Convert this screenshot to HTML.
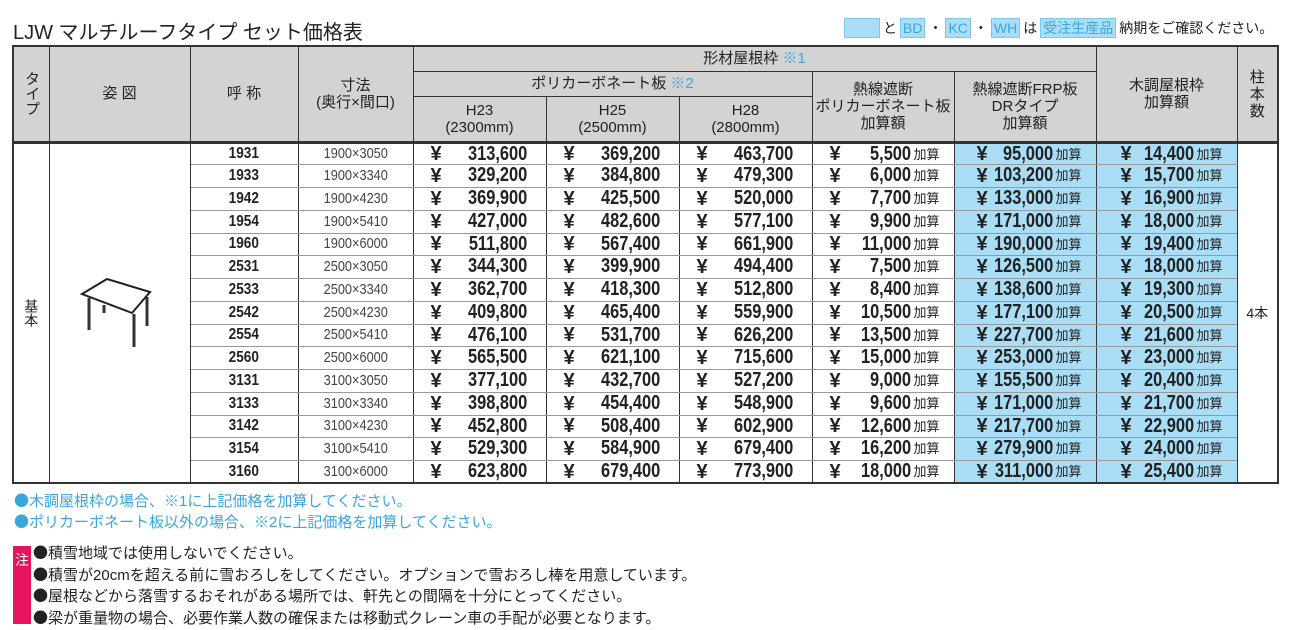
<!DOCTYPE html>
<html><head><meta charset="utf-8"><style>
body{margin:0;width:1296px;height:630px;background:#fff;font-family:"Liberation Sans","Noto Sans CJK JP",sans-serif;color:#222;position:relative;overflow:hidden}
.t{position:absolute;left:13px;top:16px;font-size:20px;color:#222}
.leg{position:absolute;top:18px;left:844px;font-size:14px;display:flex;align-items:center;gap:3px;white-space:nowrap}
.leg span.b{background:#a9def6;border:1px solid #7cc7ea;color:#3aa6dc;padding:0 2px;height:18px;line-height:18px;display:inline-block}
table{position:absolute;left:12px;top:45px;border-collapse:collapse;table-layout:fixed;width:1265px;border:2px solid #333}
td,th{padding:0;border:1px solid #333;font-weight:normal;text-align:center;font-size:14px;overflow:hidden;white-space:nowrap}
th{background:#d3d3d3;line-height:17px;font-size:15px}
.hb{border-bottom:3px solid #333}
tbody tr{height:22.75px}
td{height:20.75px;line-height:20px;border-top:1px solid #999;border-bottom:1px solid #999}
.n{font-weight:bold;font-size:16px}
.n span,.s span{display:inline-block;transform:scaleX(.85)}
.s{font-size:15px;color:#444}
.p{font-weight:bold;font-size:20px;text-align:left;padding-left:17px;position:relative}
.p b{position:absolute;right:18px;top:0;transform:scaleX(.82);transform-origin:right center}
.a b{right:42px}
.a i{position:absolute;right:14px;top:1px;font-style:normal;font-weight:normal;font-size:13px}
.bl{background:#a9def6}
.bl.p{padding-left:24px}
.fr.p{padding-left:22px}
.c{color:#3aa6dc}
.d{font-family:"Noto Sans CJK JP",sans-serif}
.notes{position:absolute;left:14px;top:491px;font-size:15px;color:#3aa6dc;line-height:20px}
.m{position:absolute;left:13px;top:546px;width:18px;height:78px;background:#e8135c;color:#fff;font-size:14px;text-align:center;padding-top:4px;box-sizing:border-box}
.w{position:absolute;left:33px;top:543px;font-size:15px;line-height:20.5px;color:#222}
</style></head><body>
<div class="t">LJW マルチルーフタイプ セット価格表</div>
<div class="leg"><span class="b" style="width:30px"></span> と <span class="b">BD</span>・<span class="b">KC</span>・<span class="b">WH</span> は <span class="b">受注生産品</span> 納期をご確認ください。</div>
<table>
<colgroup><col style="width:36px"><col style="width:141px"><col style="width:108px"><col style="width:115px"><col style="width:133px"><col style="width:133px"><col style="width:133px"><col style="width:142px"><col style="width:142px"><col style="width:141px"><col style="width:41px"></colgroup>
<thead>
<tr style="height:25px"><th rowspan="3" class="hb" style="writing-mode:vertical-rl;line-height:36px">タイプ</th><th rowspan="3" class="hb">姿 図</th><th rowspan="3" class="hb">呼 称</th><th rowspan="3" class="hb">寸法<br>(奥行×間口)</th><th colspan="5">形材屋根枠 <span class="c">※1</span></th><th rowspan="3" class="hb" style="vertical-align:top;padding-top:30px">木調屋根枠<br>加算額</th><th rowspan="3" class="hb" style="vertical-align:top;padding-top:22px;line-height:17px">柱<br>本<br>数</th></tr>
<tr style="height:25px"><th colspan="3">ポリカーボネート板 <span class="c">※2</span></th><th rowspan="2" class="hb">熱線遮断<br>ポリカーボネート板<br>加算額</th><th rowspan="2" class="hb">熱線遮断FRP板<br>DRタイプ<br>加算額</th></tr>
<tr style="height:46px"><th class="hb">H23<br>(2300mm)</th><th class="hb">H25<br>(2500mm)</th><th class="hb">H28<br>(2800mm)</th></tr>
</thead>
<tbody id="b"></tbody>
</table>
<svg width="90" height="80" style="position:absolute;left:75px;top:274px" viewBox="75 274 90 80"><polygon points="82,294 107,279 150,292 132,313" fill="#fff" stroke="#222" stroke-width="2"/><g stroke="#333" stroke-width="3" fill="none"><line x1="89" y1="298" x2="89" y2="330"/><line x1="104" y1="305" x2="104" y2="313"/><line x1="147" y1="297" x2="147" y2="326"/><line x1="134" y1="314" x2="134" y2="347"/></g></svg>
<div class="notes"><span class="d">●</span>木調屋根枠の場合、※1に上記価格を加算してください。<br><span class="d">●</span>ポリカーボネート板以外の場合、※2に上記価格を加算してください。</div>
<div class="m">注</div>
<div class="w"><span class="d">●</span>積雪地域では使用しないでください。<br><span class="d">●</span>積雪が20cmを超える前に雪おろしをしてください。オプションで雪おろし棒を用意しています。<br><span class="d">●</span>屋根などから落雪するおそれがある場所では、軒先との間隔を十分にとってください。<br><span class="d">●</span>梁が重量物の場合、必要作業人数の確保または移動式クレーン車の手配が必要となります。</div>
<script>
var d=[["1931","1900×3050","313,600","369,200","463,700","5,500","95,000","14,400"],
["1933","1900×3340","329,200","384,800","479,300","6,000","103,200","15,700"],
["1942","1900×4230","369,900","425,500","520,000","7,700","133,000","16,900"],
["1954","1900×5410","427,000","482,600","577,100","9,900","171,000","18,000"],
["1960","1900×6000","511,800","567,400","661,900","11,000","190,000","19,400"],
["2531","2500×3050","344,300","399,900","494,400","7,500","126,500","18,000"],
["2533","2500×3340","362,700","418,300","512,800","8,400","138,600","19,300"],
["2542","2500×4230","409,800","465,400","559,900","10,500","177,100","20,500"],
["2554","2500×5410","476,100","531,700","626,200","13,500","227,700","21,600"],
["2560","2500×6000","565,500","621,100","715,600","15,000","253,000","23,000"],
["3131","3100×3050","377,100","432,700","527,200","9,000","155,500","20,400"],
["3133","3100×3340","398,800","454,400","548,900","9,600","171,000","21,700"],
["3142","3100×4230","452,800","508,400","602,900","12,600","217,700","22,900"],
["3154","3100×5410","529,300","584,900","679,400","16,200","279,900","24,000"],
["3160","3100×6000","623,800","679,400","773,900","18,000","311,000","25,400"]];
var h="";
d.forEach(function(r,i){
h+="<tr>";
if(i==0){h+='<td rowspan="15" style="border-bottom:2px solid #333;writing-mode:vertical-rl;font-size:14px;line-height:36px">基本</td><td rowspan="15" style="border-bottom:2px solid #333"></td>';}
h+='<td class="n"><span>'+r[0]+'</span></td><td class="s"><span>'+r[1]+'</span></td>';
for(var k=2;k<5;k++)h+='<td class="p">¥<b>'+r[k]+'</b></td>';
h+='<td class="p a">¥<b>'+r[5]+'</b><i>加算</i></td>';
h+='<td class="p a bl fr">¥<b>'+r[6]+'</b><i>加算</i></td>';
h+='<td class="p a bl">¥<b>'+r[7]+'</b><i>加算</i></td>';
if(i==0)h+='<td rowspan="15" style="border-bottom:2px solid #333">4本</td>';
h+="</tr>";});
document.getElementById("b").innerHTML=h;
</script>
</body></html>
